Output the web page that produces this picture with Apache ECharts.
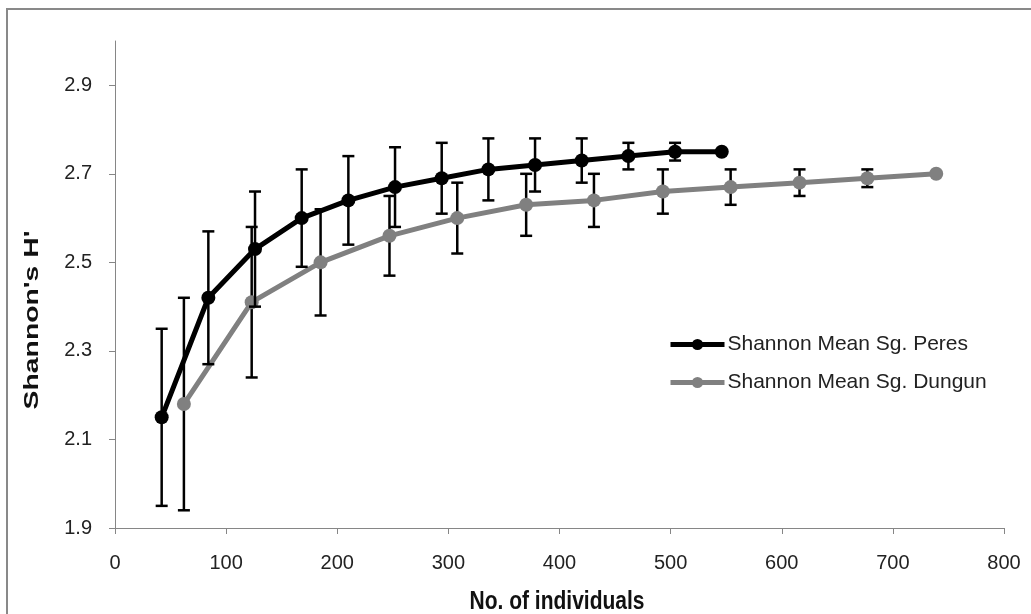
<!DOCTYPE html>
<html>
<head>
<meta charset="utf-8">
<script src="https://cdn.jsdelivr.net/npm/echarts@6/dist/echarts.min.js"></script>
<style>
html,body{margin:0;padding:0;background:#fff;}
#c{width:1031px;height:614px;}
</style>
</head>
<body>
<div id="c"></div>
<script>
// ---- data ----
var seriesNames = ['Shannon Mean Sg. Peres', 'Shannon Mean Sg. Dungun'];
var peresX    = [42, 84, 126, 168, 210, 252, 294, 336, 378, 420, 462, 504, 546];
var peresMean = [2.15, 2.42, 2.53, 2.60, 2.64, 2.67, 2.69, 2.71, 2.72, 2.73, 2.74, 2.75, 2.75];
var peresErr  = [0.20, 0.15, 0.13, 0.11, 0.10, 0.09, 0.08, 0.07, 0.06, 0.05, 0.03, 0.02, 0];
var dungunX    = [62, 123, 185, 247, 308, 370, 431, 493, 554, 616, 677, 739];
var dungunMean = [2.18, 2.41, 2.50, 2.56, 2.60, 2.63, 2.64, 2.66, 2.67, 2.68, 2.69, 2.70];
var dungunErr  = [0.24, 0.17, 0.12, 0.09, 0.08, 0.07, 0.06, 0.05, 0.04, 0.03, 0.02, 0];
var xTitle = 'No. of individuals';
var yTitle = "Shannon's H'";

function pts(xs, ys) { return xs.map(function (x, i) { return [x, ys[i]]; }); }
function errPts(xs, ys, es) { return xs.map(function (x, i) { return [x, ys[i], es[i]]; }); }

function renderErr(params, api) {
  var x = api.value(0), y = api.value(1), e = api.value(2);
  if (!e) return null;
  var top = api.coord([x, y + e]);
  var bot = api.coord([x, y - e]);
  var hw = 6;
  var st = { stroke: '#000', lineWidth: 2.5 };
  return {
    type: 'group',
    children: [
      { type: 'line', shape: { x1: top[0], y1: top[1], x2: bot[0], y2: bot[1] }, style: st },
      { type: 'line', shape: { x1: top[0] - hw, y1: top[1], x2: top[0] + hw, y2: top[1] }, style: st },
      { type: 'line', shape: { x1: bot[0] - hw, y1: bot[1], x2: bot[0] + hw, y2: bot[1] }, style: st }
    ]
  };
}

var FONT = 'Liberation Sans, Arial, sans-serif';
var chart = echarts.init(document.getElementById('c'), null, { renderer: 'canvas' });
chart.setOption({
  animation: false,
  backgroundColor: '#fff',
  grid: { left: 115, right: 27, top: 41, bottom: 86, containLabel: false },
  xAxis: {
    type: 'value', min: 0, max: 800, interval: 100,
    axisLine: { show: true, lineStyle: { color: '#868686', width: 1 } },
    axisTick: { show: true, length: 6, lineStyle: { color: '#868686' } },
    axisLabel: { color: '#222', fontSize: 20, fontFamily: FONT, margin: 25 },
    splitLine: { show: false }
  },
  yAxis: {
    type: 'value', min: 1.9, max: 3.0, interval: 0.2,
    axisLine: { show: true, lineStyle: { color: '#868686', width: 1 } },
    axisTick: { show: true, length: 6, lineStyle: { color: '#868686' } },
    axisLabel: { color: '#222', fontSize: 20, fontFamily: FONT, margin: 23, showMaxLabel: false,
      formatter: function (v) { return v > 2.95 ? '' : v.toFixed(1); } },
    splitLine: { show: false }
  },
  legend: {
    orient: 'vertical', left: 668, top: 334, itemGap: 17, padding: 0,
    itemWidth: 54, itemHeight: 14,
    lineStyle: { width: 5 },
    textStyle: { color: '#222', fontSize: 21, fontFamily: FONT, padding: [0, 0, 0, -2] },
    data: seriesNames
  },
  series: [
    {
      type: 'custom', name: 'errD', renderItem: renderErr, z: 1,
      data: errPts(dungunX, dungunMean, dungunErr), silent: true
    },
    {
      type: 'line', name: seriesNames[1], data: pts(dungunX, dungunMean), z: 2,
      symbol: 'circle', symbolSize: 14, showAllSymbol: true,
      lineStyle: { color: '#808080', width: 5 },
      itemStyle: { color: '#808080' }
    },
    {
      type: 'custom', name: 'errP', renderItem: renderErr, z: 3,
      data: errPts(peresX, peresMean, peresErr), silent: true
    },
    {
      type: 'line', name: seriesNames[0], data: pts(peresX, peresMean), z: 4,
      symbol: 'circle', symbolSize: 14, showAllSymbol: true,
      lineStyle: { color: '#000', width: 5 },
      itemStyle: { color: '#000' }
    }
  ],
  graphic: [
    { type: 'rect', shape: { x: 7, y: 9, width: 1060, height: 700 }, silent: true,
      style: { fill: 'none', stroke: '#898989', lineWidth: 2 }, z: 100 },
    { type: 'text', x: 32, y: 320, rotation: Math.PI / 2, scaleX: 1.35,
      style: { text: yTitle, fill: '#111', font: 'bold 21px ' + FONT, textAlign: 'center', textVerticalAlign: 'middle' } },
    { type: 'text', x: 557, y: 602, scaleY: 1.25,
      style: { text: xTitle, fill: '#111', font: 'bold 21px ' + FONT, textAlign: 'center', textVerticalAlign: 'middle' } }
  ]
});
</script>
</body>
</html>
